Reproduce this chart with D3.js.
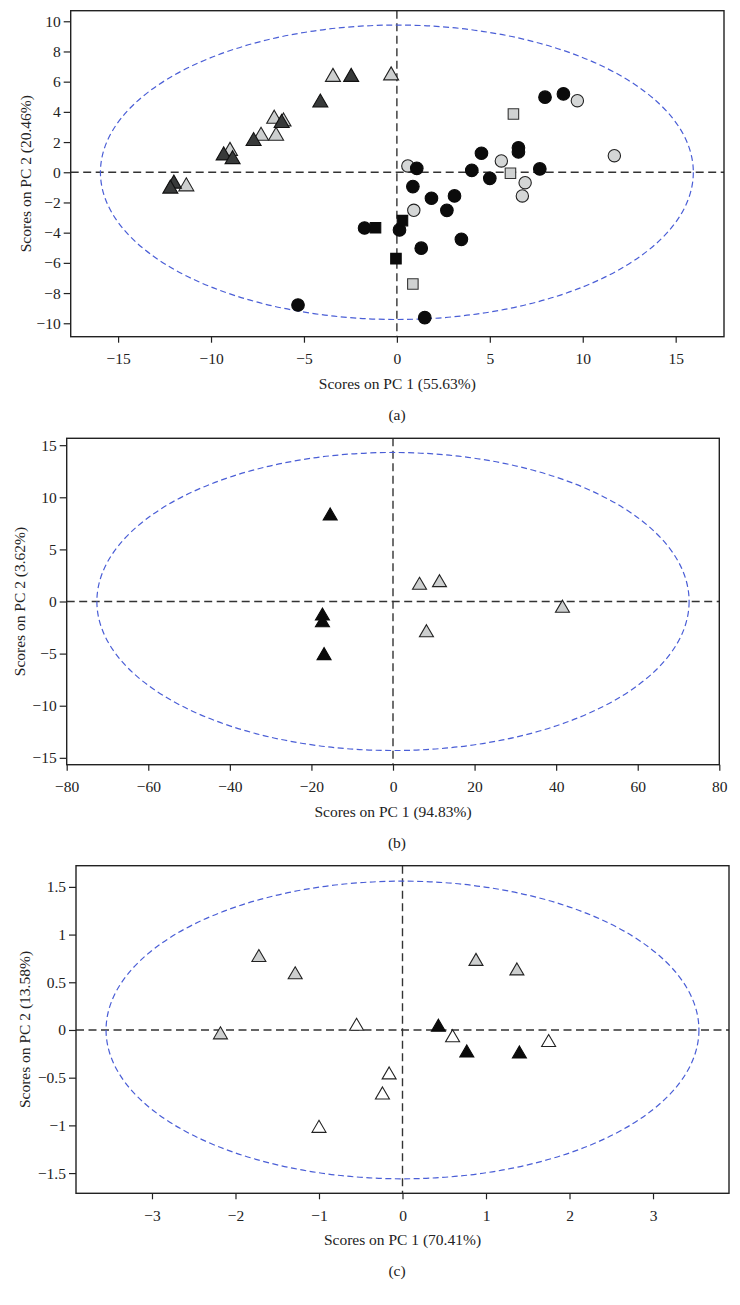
<!DOCTYPE html>
<html><head><meta charset="utf-8">
<script src="https://cdn.jsdelivr.net/npm/d3@7"></script>
<style>body{margin:0;background:#fff}svg{display:block}</style>
</head><body>
<svg id="c" width="740" height="1305"></svg>
<script>
// ---------- DATA ----------
// Panel (a)
const aTitleX = "Scores on PC 1 (55.63%)";
const aTitleY = "Scores on PC 2 (20.46%)";
const aTicksX = [-15,-10,-5,0,5,10,15];
const aTicksY = [-10,-8,-6,-4,-2,0,2,4,6,8,10];
const aLightTri = [[-3.44,6.45],[-0.31,6.55],[-6.6,3.68],[-6.1,3.5],[-7.31,2.55],[-6.5,2.55],[-8.98,1.55],[-11.33,-0.8]];
const aDarkTri = [[-2.46,6.45],[-4.12,4.75],[-6.2,3.4],[-7.71,2.2],[-9.32,1.25],[-8.84,1.0],[-12.0,-0.62],[-12.19,-0.95]];
const aLightCirc = [[0.59,0.42],[0.91,-2.52],[5.62,0.75],[6.9,-0.69],[6.75,-1.57],[9.71,4.74],[11.7,1.1]];
const aBlackCirc = [[1.07,0.26],[0.86,-0.95],[1.86,-1.72],[3.1,-1.57],[2.69,-2.52],[0.14,-3.82],[-1.74,-3.69],[1.31,-5.03],[3.47,-4.44],[-5.32,-8.79],[1.5,-9.63],[4.03,0.13],[4.55,1.26],[5.0,-0.4],[6.54,1.62],[6.54,1.35],[7.97,4.97],[8.96,5.19],[7.69,0.22]];
const aBlackSq = [[0.3,-3.2],[-1.15,-3.67],[-0.05,-5.72]];
const aLightSq = [[0.86,-7.4],[6.11,-0.07],[6.27,3.86]];
const aEllipse = [15.95, 9.75];

// Panel (b)
const bTitleX = "Scores on PC 1 (94.83%)";
const bTitleY = "Scores on PC 2 (3.62%)";
const bTicksX = [-80,-60,-40,-20,0,20,40,60,80];
const bTicksY = [-15,-10,-5,0,5,10,15];
const bBlackTri = [[-15.4,8.4],[-17.3,-1.2],[-17.3,-1.85],[-16.9,-5.0]];
const bLightTri = [[6.5,1.75],[11.4,2.0],[41.55,-0.45],[8.2,-2.8]];
const bEllipse = [72.6, 14.3];

// Panel (c)
const cTitleX = "Scores on PC 1 (70.41%)";
const cTitleY = "Scores on PC 2 (13.58%)";
const cTicksX = [-3,-2,-1,0,1,2,3];
const cTicksY = [-1.5,-1,-0.5,0,0.5,1,1.5];
const cLightTri = [[-1.72,0.78],[-1.285,0.6],[-2.18,-0.03],[0.88,0.74],[1.37,0.64]];
const cWhiteTri = [[-0.55,0.06],[0.6,-0.06],[1.75,-0.11],[-0.16,-0.45],[-0.24,-0.66],[-1.0,-1.01]];
const cBlackTri = [[0.43,0.05],[0.77,-0.22],[1.4,-0.23]];
const cEllipse = [3.55, 1.56];

const captions = ["(a)","(b)","(c)"];

// ---------- DRAW ----------
const svg = d3.select("#c");
const FONT = "'Liberation Serif','DejaVu Serif',serif";
const FS = 15.5;
const fmt = v => String(v).replace("-", "\u2212");

function triPath(w,h){ return `M0,${-h/2}L${w/2},${h/2}L${-w/2},${h/2}Z`; }
function sqPath(s){ return `M${-s/2},${-s/2}h${s}v${s}h${-s}Z`; }

function panel(cfg){
  const x = d3.scaleLinear().domain(cfg.xd).range([cfg.l, cfg.r]);
  const y = d3.scaleLinear().domain(cfg.yd).range([cfg.b, cfg.t]);
  const g = svg.append("g");
  const clipId = "clip" + cfg.id;
  svg.append("clipPath").attr("id", clipId).append("rect")
    .attr("x", cfg.l).attr("y", cfg.t).attr("width", cfg.r-cfg.l).attr("height", cfg.b-cfg.t);
  const inner = g.append("g").attr("clip-path", `url(#${clipId})`);

  // zero lines
  inner.append("line").attr("x1", cfg.l).attr("x2", cfg.r).attr("y1", y(0)).attr("y2", y(0))
    .attr("stroke", "#333").attr("stroke-width", 1.4).attr("stroke-dasharray", "8,4.5");
  inner.append("line").attr("x1", x(0)).attr("x2", x(0)).attr("y1", cfg.t).attr("y2", cfg.b)
    .attr("stroke", "#333").attr("stroke-width", 1.4).attr("stroke-dasharray", "8,4.5");
  // ellipse
  inner.append("ellipse").attr("cx", x(0)).attr("cy", y(0))
    .attr("rx", x(cfg.ell[0]) - x(0)).attr("ry", y(0) - y(cfg.ell[1]))
    .attr("fill", "none").attr("stroke", "#4a5ed6").attr("stroke-width", 1.2).attr("stroke-dasharray", "6,3.5");

  // markers
  cfg.series.forEach(s => {
    inner.append("g").selectAll("path").data(s.data).join("path")
      .attr("transform", d => `translate(${x(d[0])},${y(d[1])})`)
      .attr("d", s.shape)
      .attr("fill", s.fill).attr("stroke", s.stroke).attr("stroke-width", s.sw || 1.1);
  });

  // axes
  const ax = g.append("g").attr("transform", `translate(0,${cfg.b})`)
    .call(d3.axisBottom(x).tickValues(cfg.tx).tickFormat(fmt).tickSize(6).tickPadding(10.5).tickSizeOuter(0));
  const ay = g.append("g").attr("transform", `translate(${cfg.l},0)`)
    .call(d3.axisLeft(y).tickValues(cfg.ty).tickFormat(fmt).tickSize(7).tickPadding(3).tickSizeOuter(0));
  [ax, ay].forEach(a => {
    a.select(".domain").remove();
    a.selectAll("line").attr("stroke", "#222").attr("stroke-width", 1.2);
    a.selectAll("text").attr("font-family", FONT).attr("font-size", FS).attr("fill", "#222");
  });
  // frame
  g.append("rect").attr("x", cfg.l).attr("y", cfg.t).attr("width", cfg.r-cfg.l).attr("height", cfg.b-cfg.t)
    .attr("fill", "none").attr("stroke", "#222").attr("stroke-width", 1.4);

  // titles
  g.append("text").attr("x", (cfg.l+cfg.r)/2).attr("y", cfg.b + 52).attr("text-anchor", "middle")
    .attr("font-family", FONT).attr("font-size", FS).attr("fill", "#222").text(cfg.titleX);
  g.append("text").attr("transform", `translate(${cfg.yl},${(cfg.t+cfg.b)/2}) rotate(-90)`)
    .attr("text-anchor", "middle").attr("font-family", FONT).attr("font-size", FS).attr("fill", "#222").text(cfg.titleY);
  g.append("text").attr("x", 397).attr("y", cfg.b + 83).attr("text-anchor", "middle")
    .attr("font-family", FONT).attr("font-size", FS).attr("fill", "#222").text(cfg.cap);
}

const T = triPath(15,13), Tb = triPath(14,12);
panel({id:"a", l:70.7, r:724, t:10.7, b:336.7, xd:[-17.55,17.6], yd:[-10.89,10.7],
  tx:aTicksX, ty:aTicksY, ell:aEllipse, titleX:aTitleX, titleY:aTitleY, yl:31, cap:captions[0],
  series:[
    {data:aLightTri, shape:T, fill:"#cdcfcf", stroke:"#222"},
    {data:aDarkTri, shape:T, fill:"#383a3a", stroke:"#111"},
    {data:aLightCirc, shape:d3.symbol(d3.symbolCircle, 120)(), fill:"#d4d6d6", stroke:"#222"},
    {data:aBlackCirc, shape:d3.symbol(d3.symbolCircle, 125)(), fill:"#0b0b0b", stroke:"#0b0b0b"},
    {data:aBlackSq, shape:sqPath(10.5), fill:"#0b0b0b", stroke:"#0b0b0b"},
    {data:aLightSq, shape:sqPath(10.5), fill:"#d0d2d2", stroke:"#333"}
  ]});
panel({id:"b", l:66.7, r:719.3, t:438.3, b:764.7, xd:[-80,80], yd:[-15.66,15.66],
  tx:bTicksX, ty:bTicksY, ell:bEllipse, titleX:bTitleX, titleY:bTitleY, yl:25, cap:captions[1],
  series:[
    {data:bLightTri, shape:Tb, fill:"#cdcfcf", stroke:"#222"},
    {data:bBlackTri, shape:Tb, fill:"#0b0b0b", stroke:"#0b0b0b"}
  ]});
panel({id:"c", l:76, r:729, t:865.7, b:1193.3, xd:[-3.91,3.91], yd:[-1.712,1.722],
  tx:cTicksX, ty:cTicksY, ell:cEllipse, titleX:cTitleX, titleY:cTitleY, yl:30, cap:captions[2],
  series:[
    {data:cLightTri, shape:Tb, fill:"#cdcfcf", stroke:"#222"},
    {data:cWhiteTri, shape:Tb, fill:"#ffffff", stroke:"#222"},
    {data:cBlackTri, shape:Tb, fill:"#0b0b0b", stroke:"#0b0b0b"}
  ]});
</script>
</body></html>
